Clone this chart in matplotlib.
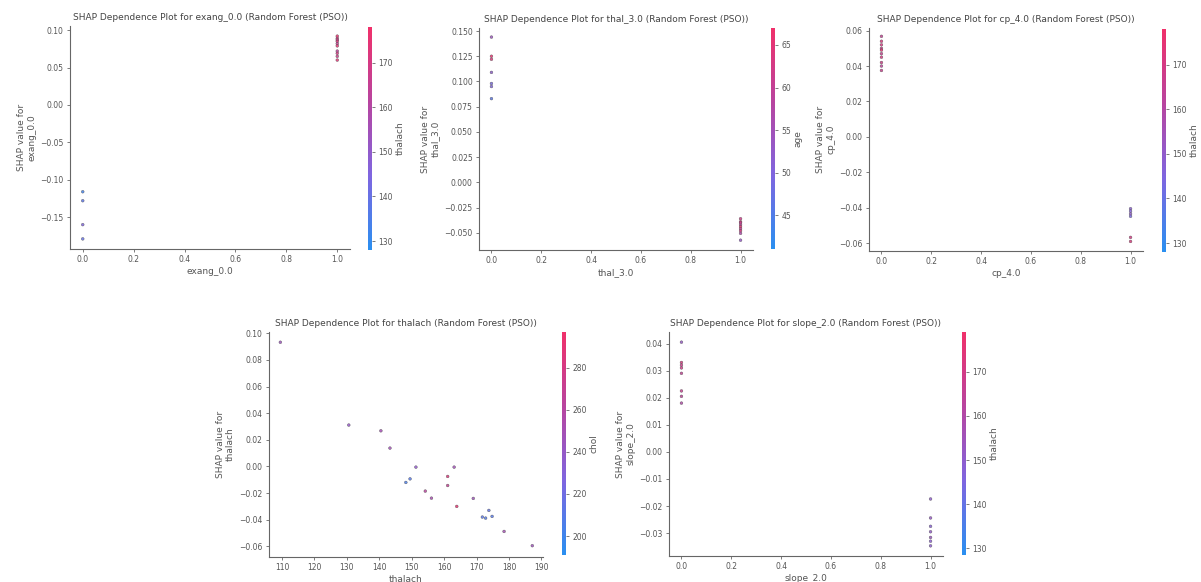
import numpy as np
import matplotlib
matplotlib.use("Agg")
import matplotlib.pyplot as plt
from matplotlib.colors import LinearSegmentedColormap

# ---------------- data ----------------
# Panel 1: exang_0.0 (colour: thalach)
exang_x = [0, 0, 0, 0, 1, 1, 1, 1, 1, 1, 1, 1, 1, 1]
exang_shap = [-0.116, -0.128, -0.160, -0.179, 0.092, 0.089, 0.087, 0.085, 0.082, 0.079, 0.072, 0.069, 0.065, 0.060]
exang_thalach = [133, 138, 145, 140, 176, 170, 168, 172, 165, 175, 163, 170, 168, 174]

# Panel 2: thal_3.0 (colour: age)
thal_x = [0, 0, 0, 0, 0, 0, 0, 1, 1, 1, 1, 1, 1, 1, 1, 1]
thal_shap = [0.144, 0.125, 0.122, 0.109, 0.098, 0.095, 0.083, -0.036, -0.039, -0.042, -0.044, -0.046, -0.048, -0.0505, -0.0573, -0.040]
thal_age = [54, 66, 64, 52, 49, 50, 46, 62, 64, 59, 66, 60, 63, 57, 53, 61]

# Panel 3: cp_4.0 (colour: thalach)
cp_x = [0, 0, 0, 0, 0, 0, 0, 0, 0, 0, 1, 1, 1, 1, 1, 1]
cp_shap = [0.0568, 0.054, 0.052, 0.050, 0.049, 0.047, 0.045, 0.042, 0.040, 0.0375, -0.0406, -0.042, -0.0435, -0.0449, -0.0568, -0.0591]
cp_thalach = [165, 172, 170, 168, 175, 166, 171, 169, 163, 167, 148, 146, 150, 144, 170, 172]

# Panel 4: thalach (colour: chol)
thalach_x = [109.5, 130.6, 140.5, 143.3, 151.3, 148.2, 149.5, 154.2, 156.1, 161.1, 161.1,
             163.1, 163.9, 169.0, 171.8, 172.8, 173.8, 174.8, 178.5, 187.2]
thalach_shap = [0.0933, 0.0311, 0.0268, 0.0138, -0.0005, -0.0120, -0.0093, -0.0185, -0.0238, -0.0075,
                -0.0143, -0.0005, -0.0300, -0.0240, -0.0380, -0.0388, -0.0330, -0.0375, -0.0488, -0.0595]
thalach_chol = [245, 240, 250, 248, 238, 205, 210, 262, 252, 285, 270, 248, 292, 246, 212, 208, 214, 210, 250, 246]

# Panel 5: slope_2.0 (colour: thalach)
slope_x = [0, 0, 0, 0, 0, 0, 0, 0, 1, 1, 1, 1, 1, 1, 1]
slope_shap = [0.0405, 0.033, 0.032, 0.031, 0.029, 0.0225, 0.0205, 0.018, -0.0174, -0.0244, -0.0275, -0.0295, -0.0316, -0.033, -0.0347]
slope_thalach = [152, 172, 168, 170, 166, 167, 164, 160, 150, 152, 148, 151, 153, 149, 150]

# ---------------- styling ----------------
cmap = LinearSegmentedColormap.from_list(
    "shap_red_blue", ["#2a8ff0", "#7f66e0", "#b8449f", "#f0306a"])

W, H = 1201, 582
fig = plt.figure(figsize=(W / 100, H / 100), dpi=100)
AXC = "#666666"
TICK_FS = 5.5
LAB_FS = 6.5
TITLE_FS = 6.5


def px_axes(x0, y0, x1, y1):
    return fig.add_axes([x0 / W, 1 - y1 / H, (x1 - x0) / W, (y1 - y0) / H])


def panel(box, cbox, x, y, c, vmin, vmax, feat, cname):
    ax = px_axes(*box)
    sc = ax.scatter(x, y, c=c, cmap=cmap, vmin=vmin, vmax=vmax, s=4, linewidths=0.3,
                    edgecolors="#444444", alpha=0.85)
    for s in ("top", "right"):
        ax.spines[s].set_visible(False)
    for s in ("left", "bottom"):
        ax.spines[s].set_color(AXC)
        ax.spines[s].set_linewidth(0.8)
    ax.tick_params(colors=AXC, labelcolor="#555555", labelsize=TICK_FS, length=2.5, width=0.6, pad=2)
    ax.set_xlabel(feat, fontsize=LAB_FS, color="#555555", labelpad=2)
    ax.set_ylabel("SHAP value for\n" + feat, fontsize=LAB_FS, color="#555555", labelpad=3)
    ax.set_title(f"SHAP Dependence Plot for {feat} (Random Forest (PSO))", fontsize=TITLE_FS,
                 color="#444444", pad=4)
    cax = px_axes(*cbox)
    cb = fig.colorbar(sc, cax=cax)
    cb.outline.set_visible(False)
    cb.solids.set_alpha(1)
    cax.tick_params(labelsize=TICK_FS, colors=AXC, labelcolor="#555555", length=2.5, width=0.6, pad=2)
    cb.set_label(cname, fontsize=LAB_FS, color="#555555", labelpad=2)
    return ax, cb


ax1, cb1 = panel((70, 26, 350, 249), (368, 27, 372, 250), exang_x, exang_shap, exang_thalach,
                 128, 178, "exang_0.0", "thalach")
ax1.set_yticks([-0.15, -0.10, -0.05, 0.00, 0.05, 0.10])
cb1.set_ticks([130, 140, 150, 160, 170])

ax2, cb2 = panel((479, 28, 753, 250), (771, 28, 775, 249), thal_x, thal_shap, thal_age,
                 41, 67, "thal_3.0", "age")
ax2.set_yticks([-0.050, -0.025, 0.000, 0.025, 0.050, 0.075, 0.100, 0.125, 0.150])
ax2.set_ylim(-0.067, 0.153)
cb2.set_ticks([45, 50, 55, 60, 65])

ax3, cb3 = panel((869, 28, 1143, 251), (1162, 29, 1166, 252), cp_x, cp_shap, cp_thalach,
                 128, 178, "cp_4.0", "thalach")
ax3.set_yticks([-0.06, -0.04, -0.02, 0.00, 0.02, 0.04, 0.06])
ax3.set_ylim(-0.0645, 0.0615)
cb3.set_ticks([130, 140, 150, 160, 170])

ax4, cb4 = panel((269, 332, 543, 557), (562, 332, 566, 555), thalach_x, thalach_shap, thalach_chol,
                 191, 297, "thalach", "chol")
ax4.set_yticks([-0.06, -0.04, -0.02, 0.00, 0.02, 0.04, 0.06, 0.08, 0.10])
ax4.set_xticks([110, 120, 130, 140, 150, 160, 170, 180, 190])
ax4.set_ylim(-0.068, 0.101)
ax4.set_xlim(106, 190.5)
cb4.set_ticks([200, 220, 240, 260, 280])

ax5, cb5 = panel((669, 332, 943, 556), (962, 332, 966, 555), slope_x, slope_shap, slope_thalach,
                 128.5, 179, "slope_2.0", "thalach")
ax5.set_yticks([-0.03, -0.02, -0.01, 0.00, 0.01, 0.02, 0.03, 0.04])
cb5.set_ticks([130, 140, 150, 160, 170])

fig.savefig("out.png", dpi=100, facecolor="white")
